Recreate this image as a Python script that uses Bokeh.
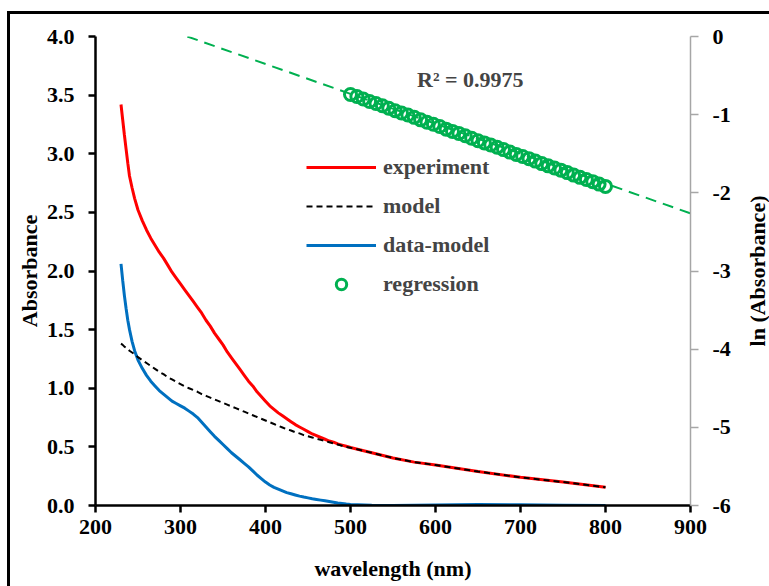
from bokeh.plotting import figure
from bokeh.layouts import row
from bokeh.models import (Range1d, LinearAxis, FixedTicker, NumeralTickFormatter,
                          Legend, LegendItem, Label)
from bokeh.embed import file_html
from bokeh.resources import INLINE

FONT = "Liberation Serif"
FS = "22px"

# ---------------- data ----------------
wavelength = [230, 232, 234, 236, 238, 240, 243, 246,
              250, 255, 260, 265, 270, 275, 280, 285, 290, 295,
              300, 305, 310, 315, 320, 325, 330, 335, 340, 345,
              350, 355, 360, 365, 370, 375, 380, 385, 390, 395,
              400, 405, 410, 415, 420, 425, 430, 435, 440, 445,
              450, 455, 460, 465, 470, 475, 480, 485, 490, 495,
              500, 525, 550, 575, 600, 650, 700, 750, 800]
experiment = [3.42, 3.29, 3.16, 3.04, 2.92, 2.81, 2.71, 2.62,
              2.52, 2.43, 2.35, 2.28, 2.22, 2.16, 2.11, 2.05, 1.99, 1.94,
              1.89, 1.84, 1.79, 1.74, 1.69, 1.64, 1.58, 1.53, 1.47, 1.42,
              1.37, 1.31, 1.26, 1.21, 1.16, 1.11, 1.06, 1.02, 0.97, 0.93,
              0.89, 0.85, 0.82, 0.79, 0.765, 0.74, 0.715, 0.69, 0.67, 0.65,
              0.63, 0.61, 0.595, 0.58, 0.565, 0.55, 0.54, 0.525, 0.515, 0.505,
              0.495, 0.45, 0.405, 0.37, 0.345, 0.29, 0.24, 0.20, 0.155]
model = [1.38, 1.37, 1.355, 1.345, 1.335, 1.32, 1.305, 1.29,
         1.265, 1.24, 1.215, 1.19, 1.165, 1.14, 1.12, 1.095, 1.075, 1.055,
         1.035, 1.015, 1.00, 0.985, 0.97, 0.95, 0.935, 0.92, 0.905, 0.89,
         0.875, 0.86, 0.845, 0.83, 0.815, 0.80, 0.785, 0.77, 0.755, 0.74,
         0.725, 0.71, 0.695, 0.68, 0.665, 0.65, 0.64, 0.625, 0.615, 0.60,
         0.59, 0.58, 0.57, 0.56, 0.55, 0.54, 0.53, 0.52, 0.51, 0.50,
         0.493, 0.45, 0.405, 0.37, 0.345, 0.29, 0.24, 0.20, 0.155]
data_model = [2.06, 1.92, 1.79, 1.68, 1.58, 1.50, 1.40, 1.32,
              1.24, 1.17, 1.11, 1.06, 1.02, 0.98, 0.95, 0.92, 0.89, 0.87,
              0.85, 0.83, 0.805, 0.78, 0.75, 0.71, 0.67, 0.63, 0.59, 0.555,
              0.52, 0.485, 0.45, 0.42, 0.39, 0.36, 0.33, 0.295, 0.26, 0.23,
              0.20, 0.175, 0.155, 0.14, 0.125, 0.11, 0.10, 0.09, 0.08, 0.072,
              0.065, 0.058, 0.052, 0.046, 0.04, 0.034, 0.028, 0.022, 0.017, 0.012,
              0.008, 0.002, 0.0, 0.002, 0.004, 0.008, 0.006, 0.003, 0.0]

reg_wavelength = [500, 507.5, 515, 522.5, 530, 537.5, 545, 552.5, 560, 567.5, 575,
                  582.5, 590, 597.5, 605, 612.5, 620, 627.5, 635, 642.5, 650, 657.5,
                  665, 672.5, 680, 687.5, 695, 702.5, 710, 717.5, 725, 732.5, 740,
                  747.5, 755, 762.5, 770, 777.5, 785, 792.5, 800]
reg_ln = [-0.742, -0.768, -0.799, -0.831, -0.858, -0.886, -0.917, -0.949, -0.979,
          -1.005, -1.034, -1.066, -1.097, -1.122, -1.152, -1.185, -1.214, -1.240,
          -1.269, -1.302, -1.333, -1.361, -1.388, -1.416, -1.447, -1.479, -1.508,
          -1.535, -1.563, -1.594, -1.626, -1.655, -1.682, -1.710, -1.741, -1.773,
          -1.802, -1.829, -1.857, -1.888, -1.918]

fit_wavelength = [308, 900]
fit_ln = [0.0, -2.263]

r2_text = "R² = 0.9975"
r2_pos = (641, 3.63)
right_label = "ln (Absorbance)"

x_ticks = [200, 300, 400, 500, 600, 700, 800, 900]
y_ticks = [0.0, 0.5, 1.0, 1.5, 2.0, 2.5, 3.0, 3.5, 4.0]
ln_ticks = [-6, -5, -4, -3, -2, -1, 0]

# ---------------- main figure ----------------
H = 572
p = figure(width=731, height=H, x_range=Range1d(200, 900), y_range=Range1d(0, 4),
           output_backend="svg", toolbar_location=None,
           min_border_left=85, min_border_right=51, min_border_top=22,
           min_border_bottom=81)
p.extra_y_ranges = {"ln": Range1d(-6, 0)}
p.grid.visible = False
p.outline_line_color = None
p.background_fill_color = "white"
p.border_fill_color = "white"

r_exp = p.line(wavelength, experiment, line_color="#FF0000", line_width=3)
r_dm = p.line(wavelength, data_model, line_color="#0070C0", line_width=3)
r_mod = p.line(wavelength, model, line_color="black", line_width=2, line_dash="6 4")
r_fit = p.line(fit_wavelength, fit_ln, line_color="#00B050", line_width=2,
               line_dash="11 7", y_range_name="ln")
r_reg = p.scatter(reg_wavelength, reg_ln, marker="circle", size=12, fill_color=None,
                  line_color="#00B050", line_width=3, y_range_name="ln")


def style_axis(ax, color):
    ax.axis_line_color = color
    ax.major_tick_line_color = color
    ax.major_tick_in = 0
    ax.minor_tick_line_color = None
    ax.major_label_text_font = FONT
    ax.major_label_text_font_style = "bold"
    ax.major_label_text_font_size = FS
    ax.major_label_text_color = "black"
    ax.axis_label_text_font = FONT
    ax.axis_label_text_font_style = "bold"
    ax.axis_label_text_font_size = FS
    ax.axis_label_text_color = "black"


xa = p.xaxis[0]
style_axis(xa, "black")
xa.ticker = FixedTicker(ticks=x_ticks)
xa.axis_line_width = 2.5
xa.major_tick_line_width = 2.5
xa.major_tick_out = 7
xa.major_label_standoff = 7
xa.axis_label = "wavelength (nm)"
xa.axis_label_standoff = 19

ya = p.yaxis[0]
style_axis(ya, "black")
ya.ticker = FixedTicker(ticks=y_ticks)
ya.formatter = NumeralTickFormatter(format="0.0")
ya.axis_line_width = 2.5
ya.major_tick_line_width = 2.5
ya.major_tick_out = 7
ya.major_label_standoff = 14
ya.axis_label = "Absorbance"
ya.axis_label_standoff = 2

ra = LinearAxis(y_range_name="ln", ticker=FixedTicker(ticks=ln_ticks),
                formatter=NumeralTickFormatter(format="0"))
style_axis(ra, "#A6A6A6")
ra.axis_line_width = 1.5
ra.major_tick_line_width = 1.5
ra.major_tick_out = 8
ra.major_label_standoff = 14
p.add_layout(ra, "right")

legend = Legend(items=[LegendItem(label="experiment", renderers=[r_exp]),
                       LegendItem(label="model", renderers=[r_mod]),
                       LegendItem(label="data-model", renderers=[r_dm]),
                       LegendItem(label="regression", renderers=[r_reg])],
                location=(211, 208), padding=0, margin=0, spacing=13,
                glyph_width=70, glyph_height=26, label_height=26, label_standoff=7,
                border_line_color=None, background_fill_alpha=0,
                label_text_font=FONT, label_text_font_style="bold",
                label_text_font_size=FS)
p.add_layout(legend)

p.add_layout(Label(x=r2_pos[0], y=r2_pos[1], text=r2_text, text_align="center",
                   text_baseline="middle", text_font=FONT, text_font_style="bold",
                   text_font_size=FS))

# ---------------- narrow strip carrying the right axis title ----------------
q = figure(width=28, height=H, x_range=Range1d(0, 1), y_range=Range1d(-6, 0),
           output_backend="svg", toolbar_location=None,
           min_border_left=26, min_border_right=0, min_border_top=22,
           min_border_bottom=81)
q.grid.visible = False
q.outline_line_color = None
q.background_fill_color = "white"
q.border_fill_color = "white"
q.xaxis.visible = False
qa = q.yaxis[0]
style_axis(qa, None)
qa.ticker = FixedTicker(ticks=[])
qa.major_tick_line_color = None
qa.major_tick_out = 0
qa.major_label_standoff = 0
qa.axis_label = right_label
qa.axis_label_standoff = 0

layout = row(p, q, spacing=0)
layout.styles = {"margin-left": "7px", "margin-top": "11px",
                 "border-left": "3px solid black", "border-top": "3px solid black"}

open("out.html", "w").write(file_html(layout, INLINE))
